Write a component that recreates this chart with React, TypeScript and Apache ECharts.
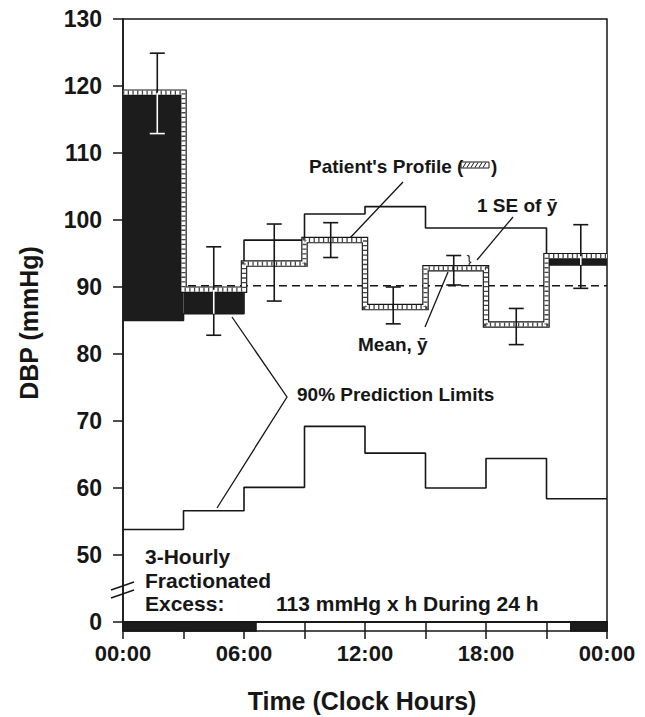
import React, { useEffect, useRef } from "react";
import * as echarts from "echarts";

// ---------- data ----------
const binStarts = [0, 3, 6, 9, 12, 15, 18, 21];
const binHours = 3;
const profile = [119.0, 89.6, 93.5, 97.0, 87.0, 92.8, 84.4, 94.6];
const upperLimit = [85.0, 86.0, 97.0, 100.9, 102.0, 98.8, 98.8, 93.3];
const lowerLimit = [53.8, 56.6, 60.1, 69.2, 65.2, 60.0, 64.4, 58.4];
const meanLevel = 90.2;
const seHours = [1.7, 4.5, 7.5, 10.3, 13.4, 16.4, 19.5, 22.7];
const seLow = [112.9, 82.8, 87.9, 94.4, 84.5, 90.3, 81.4, 89.8];
const seHigh = [124.9, 96.0, 99.4, 99.6, 90.0, 94.7, 86.8, 99.3];
const excessStripStart = [0, 22.2];
const excessStripEnd = [6.6, 24];
const xTickLabels = ["00:00", "06:00", "12:00", "18:00", "00:00"];
const brokenAxisBase = 40; // where the "0" sits below the axis break
const yMax = 130;

const FONT = "'Liberation Sans', Arial, Helvetica, sans-serif";
const INK = "#161616";

function stepData(vals: number[]) {
  const pts = binStarts.map((s, i) => [s, vals[i]]);
  pts.push([binStarts[binStarts.length - 1] + binHours, vals[vals.length - 1]]);
  return pts;
}

export default function App() {
  const ref = useRef<HTMLDivElement>(null);

  useEffect(() => {
    if (!ref.current) return;
    const chart = echarts.init(ref.current, undefined, { renderer: "svg" });

    const excessBars = binStarts
      .map((s, i) => [s, s + binHours, upperLimit[i], profile[i]])
      .filter((d) => d[3] > d[2]);

    const errData = seHours.map((h, i) => {
      const bin = Math.floor(h / binHours);
      const black = profile[bin] > upperLimit[bin];
      return [h, seLow[i], seHigh[i], black ? upperLimit[bin] : 0, black ? profile[bin] : 0];
    });

    const stripData: number[][] = [[0, 24, brokenAxisBase, 0]];
    excessStripStart.forEach((s, i) => stripData.push([s, excessStripEnd[i], brokenAxisBase, 1]));

    const txt = (text: string, x: number, y: number, size: number, extra: any = {}, el: any = {}) => ({
      type: "text",
      x,
      y,
      silent: true,
      ...el,
      style: {
        text,
        fill: INK,
        font: `bold ${size}px ${FONT}`,
        textVerticalAlign: "middle",
        verticalAlign: "middle",
        ...extra,
      },
    });
    const ln = (x1: number, y1: number, x2: number, y2: number, w = 1.3) => ({
      type: "line",
      silent: true,
      shape: { x1, y1, x2, y2 },
      style: { stroke: INK, lineWidth: w },
    });

    const hatch: any[] = [];
    for (let x = 463; x <= 486; x += 4) hatch.push(ln(x, 167.5, x + 3, 162.5, 1));

    const option: any = {
      animation: false,
      grid: {
        left: 123,
        right: 38,
        top: 19,
        bottom: 95,
        show: true,
        borderColor: INK,
        borderWidth: 1.5,
        backgroundColor: "transparent",
      },
      xAxis: {
        type: "value",
        min: 0,
        max: 24,
        interval: 3,
        axisLine: { show: true, lineStyle: { color: INK, width: 1.5 } },
        axisTick: { show: true, length: 17, lineStyle: { color: INK, width: 1.5 } },
        splitLine: { show: false },
        axisLabel: {
          margin: 20,
          color: INK,
          fontFamily: FONT,
          fontWeight: "bold",
          fontSize: 22,
          formatter: (v: number) => (v % 6 === 0 ? xTickLabels[v / 6] : ""),
        },
      },
      yAxis: {
        type: "value",
        min: brokenAxisBase,
        max: yMax,
        interval: 10,
        axisLine: { show: true, lineStyle: { color: INK, width: 1.5 } },
        axisTick: { show: true, length: 10, lineStyle: { color: INK, width: 1.5 } },
        splitLine: { show: false },
        axisLabel: {
          margin: 21,
          color: INK,
          fontFamily: FONT,
          fontWeight: "bold",
          fontSize: 23,
          formatter: (v: number) => (v === brokenAxisBase ? "0" : String(v)),
        },
      },
      series: [
        {
          type: "line",
          step: "end",
          data: stepData(lowerLimit),
          symbol: "none",
          z: 2,
          lineStyle: { color: INK, width: 1.6 },
        },
        {
          type: "line",
          step: "end",
          data: stepData(upperLimit),
          symbol: "none",
          z: 2,
          lineStyle: { color: INK, width: 1.6 },
        },
        {
          type: "line",
          data: [
            [0, meanLevel],
            [24, meanLevel],
          ],
          symbol: "none",
          z: 2,
          lineStyle: { color: INK, width: 1.5, type: [8, 5] },
        },
        {
          type: "custom",
          z: 3,
          data: excessBars,
          encode: { x: [0, 1], y: [2, 3] },
          renderItem: (params: any, api: any) => {
            const p0 = api.coord([api.value(0), api.value(3)]);
            const p1 = api.coord([api.value(1), api.value(2)]);
            return {
              type: "rect",
              shape: { x: p0[0], y: p0[1], width: p1[0] - p0[0], height: p1[1] - p0[1] },
              style: { fill: "#1c1c1c" },
            };
          },
        },
        {
          type: "line",
          step: "end",
          data: stepData(profile),
          symbol: "none",
          z: 4,
          lineStyle: { color: INK, width: 6.5, join: "miter", cap: "butt" },
        },
        {
          type: "line",
          step: "end",
          data: stepData(profile),
          symbol: "none",
          z: 5,
          lineStyle: { color: "#ffffff", width: 4.2, join: "miter", cap: "butt" },
        },
        {
          type: "line",
          step: "end",
          data: stepData(profile),
          symbol: "none",
          z: 6,
          lineStyle: { color: "#444", width: 4.2, type: [1.3, 3.4], join: "miter", cap: "butt" },
        },
        {
          type: "custom",
          z: 7,
          data: errData,
          encode: { x: 0, y: [1, 2] },
          renderItem: (params: any, api: any) => {
            const x = api.value(0);
            const lo = api.value(1);
            const hi = api.value(2);
            const bLo = api.value(3);
            const bHi = api.value(4);
            const px = api.coord([x, lo])[0];
            const py = (v: number) => api.coord([x, v])[1];
            const hasBlack = bHi > bLo;
            const inside = (v: number) => hasBlack && v >= bLo && v <= bHi;
            const cuts = [lo, hi];
            if (hasBlack) {
              if (bLo > lo && bLo < hi) cuts.push(bLo);
              if (bHi > lo && bHi < hi) cuts.push(bHi);
            }
            cuts.sort((a, b) => a - b);
            const children: any[] = [];
            for (let k = 0; k < cuts.length - 1; k++) {
              const mid = (cuts[k] + cuts[k + 1]) / 2;
              children.push({
                type: "line",
                shape: { x1: px, y1: py(cuts[k]), x2: px, y2: py(cuts[k + 1]) },
                style: { stroke: inside(mid) ? "#ffffff" : INK, lineWidth: 1.6 },
              });
            }
            [lo, hi].forEach((v) =>
              children.push({
                type: "line",
                shape: { x1: px - 7.5, y1: py(v), x2: px + 7.5, y2: py(v) },
                style: { stroke: inside(v) ? "#ffffff" : INK, lineWidth: 1.6 },
              })
            );
            return { type: "group", children };
          },
        },
        {
          type: "custom",
          z: 8,
          clip: false,
          data: stripData,
          encode: { x: [0, 1], y: 2 },
          renderItem: (params: any, api: any) => {
            const a = api.coord([api.value(0), api.value(2)]);
            const b = api.coord([api.value(1), api.value(2)]);
            const filled = api.value(3) === 1;
            return {
              type: "rect",
              shape: { x: a[0], y: a[1], width: b[0] - a[0], height: 9 },
              style: {
                fill: filled ? "#1c1c1c" : "none",
                stroke: INK,
                lineWidth: 1.3,
              },
            };
          },
        },
      ],
      graphic: [
        txt("DBP (mmHg)", 29, 323, 25, { textAlign: "center", align: "center" }, { rotation: Math.PI / 2 }),
        txt("Time (Clock Hours)", 362, 701, 25, { textAlign: "center", align: "center" }),
        txt("Patient's Profile (", 309, 166, 19),
        {
          type: "rect",
          silent: true,
          shape: { x: 461, y: 162, width: 28, height: 6 },
          style: { fill: "#fff", stroke: INK, lineWidth: 1 },
        },
        ...hatch,
        txt(")", 491, 166, 19),
        txt("1 SE of ȳ", 477, 205, 19),
        {
          type: "text",
          x: 469,
          y: 261,
          silent: true,
          style: {
            text: "}",
            fill: INK,
            font: `14px ${FONT}`,
            textAlign: "center",
            align: "center",
            textVerticalAlign: "middle",
            verticalAlign: "middle",
          },
        },
        txt("Mean, ȳ", 358, 344, 19),
        txt("90% Prediction Limits", 297, 394, 19),
        txt("3-Hourly", 145, 556, 21),
        txt("Fractionated", 145, 580, 21),
        txt("Excess:", 145, 603, 21),
        txt("113 mmHg x h During 24 h", 276, 603, 21),
        ln(403, 182, 350, 238),
        ln(513, 217, 477, 260),
        ln(448, 272, 425, 327),
        {
          type: "polyline",
          silent: true,
          shape: {
            points: [
              [232, 317],
              [287, 397],
              [217, 508],
            ],
          },
          style: { stroke: INK, lineWidth: 1.3, fill: "none" },
        },
        ln(111, 590, 134, 582, 1.5),
        ln(111, 598, 134, 590, 1.5),
      ],
    };

    chart.setOption(option);
    return () => chart.dispose();
  }, []);

  return <div ref={ref} style={{ width: 645, height: 717, position: "absolute", left: 0, top: 0 }} />;
}
